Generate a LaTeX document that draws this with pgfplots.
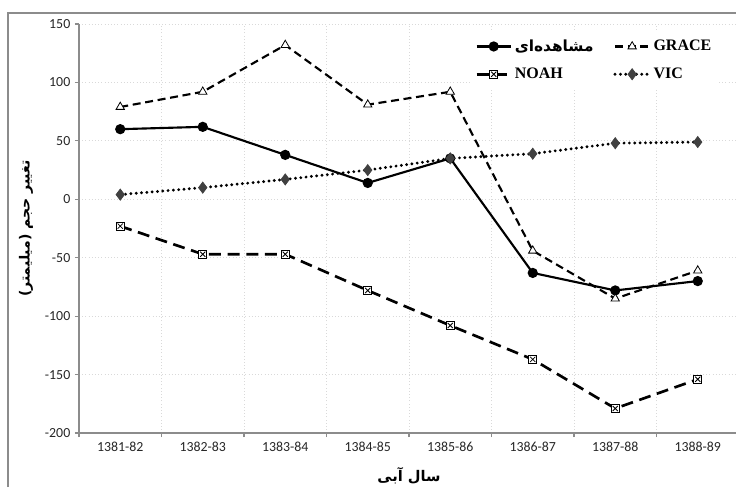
\documentclass[border=0pt]{standalone}
\usepackage{fontspec}
\usepackage{pgfplots}
\pgfplotsset{compat=1.18}
\setmainfont{Carlito}
\newfontfamily\arabicfont[Script=Arabic]{DejaVu Sans}
\newfontfamily\legfont{Liberation Serif}
\TeXXeTstate=1
\definecolor{axgray}{HTML}{8C8C8C}
\definecolor{gridgray}{HTML}{D9D9D9}
\definecolor{vicgray}{HTML}{404040}

\pgfdeclareplotmark{boxx}{%
  \pgfpathrectangle{\pgfqpoint{-\pgfplotmarksize}{-\pgfplotmarksize}}{\pgfqpoint{2\pgfplotmarksize}{2\pgfplotmarksize}}%
  \pgfusepathqfillstroke
  \pgfpathmoveto{\pgfqpoint{-0.65\pgfplotmarksize}{-0.65\pgfplotmarksize}}%
  \pgfpathlineto{\pgfqpoint{0.65\pgfplotmarksize}{0.65\pgfplotmarksize}}%
  \pgfpathmoveto{\pgfqpoint{-0.65\pgfplotmarksize}{0.65\pgfplotmarksize}}%
  \pgfpathlineto{\pgfqpoint{0.65\pgfplotmarksize}{-0.65\pgfplotmarksize}}%
  \pgfusepathqstroke
}

\begin{document}
\begin{tikzpicture}
\path[use as bounding box] (0,0) rectangle (552pt,365.25pt);
\draw[axgray, line width=0.8pt] (6pt,0) -- (6pt,355.5pt) -- (552pt,355.5pt);
\begin{axis}[
  at={(59.25pt,40.5pt)}, anchor=south west,
  scale only axis, width=495pt, height=306.75pt,
  xmin=-0.5, xmax=7.5, ymin=-200, ymax=150,
  ytick={-200,-150,...,150},
  xtick={-0.5,0.5,...,7.5},
  x tick label as interval,
  xticklabels={1381-82,1382-83,1383-84,1384-85,1385-86,1386-87,1387-88,1388-89},
  axis lines*=left,
  axis line style={-, draw=axgray, line width=1.1pt},
  tick align=outside,
  tick pos=left,
  major tick length=3pt,
  tick style={draw=axgray, line width=0.8pt},
  grid=major,
  major grid style={draw=gridgray, dotted, line width=0.6pt},
  tick label style={font=\fontsize{10.4}{12}\selectfont, text=black!85},
  /pgf/number format/assume math mode=true,
  clip=false,
  legend columns=2,
  legend cell align=left,
  legend style={at={(0.592,0.982)}, anchor=north west, draw=none, fill=white,
    font=\legfont\bfseries\fontsize{12}{14}\selectfont,
    inner xsep=4pt, inner ysep=4pt, row sep=7pt,
    /tikz/every even column/.append style={column sep=13pt}},
  legend image code/.code={\draw[mark repeat=2,mark phase=2] plot coordinates {(0cm,0cm)(0.45cm,0cm)(0.9cm,0cm)};},
]
\addplot[black, line width=1.6pt, mark=*, mark size=3pt, mark options={solid, fill=black}]
  coordinates {(0,60) (1,62) (2,38) (3,14) (4,35) (5,-63) (6,-78) (7,-70)};
\addlegendentry{{\arabicfont\bfseries\fontsize{11.5}{14}\selectfont\beginR مشاهده‌ای\endR}}
\addplot[black, line width=1.6pt, dash pattern=on 6pt off 3.5pt, mark=triangle*, mark size=3.6pt, mark options={solid, fill=white, line width=0.6pt}]
  coordinates {(0,79) (1,92) (2,132) (3,81) (4,92) (5,-44) (6,-85) (7,-61)};
\addlegendentry{GRACE}
\addplot[black, line width=2pt, dash pattern=on 9pt off 5pt, mark=boxx, mark size=3pt, mark options={solid, fill=white, line width=0.6pt}]
  coordinates {(0,-23) (1,-47) (2,-47) (3,-78) (4,-108) (5,-137) (6,-179) (7,-154)};
\addlegendentry{NOAH}
\addplot[black, line width=2.4pt, line cap=round, dash pattern=on 0pt off 4pt, mark=diamond*, mark size=4.2pt, mark options={solid, fill=vicgray, draw=vicgray, line width=0.5pt}]
  coordinates {(0,4) (1,10) (2,17) (3,25) (4,35) (5,39) (6,48) (7,49)};
\addlegendentry{VIC}
\node[font=\arabicfont\bfseries\fontsize{11}{13}\selectfont] at (axis description cs:0.5,-0.105) {\beginR سال آبی\endR};
\node[font=\arabicfont\bfseries\fontsize{10.5}{13}\selectfont, rotate=90] at (axis description cs:-0.0803,0.5) {\beginR تغییر حجم (میلیمتر)\endR};
\end{axis}
\end{tikzpicture}
\end{document}
